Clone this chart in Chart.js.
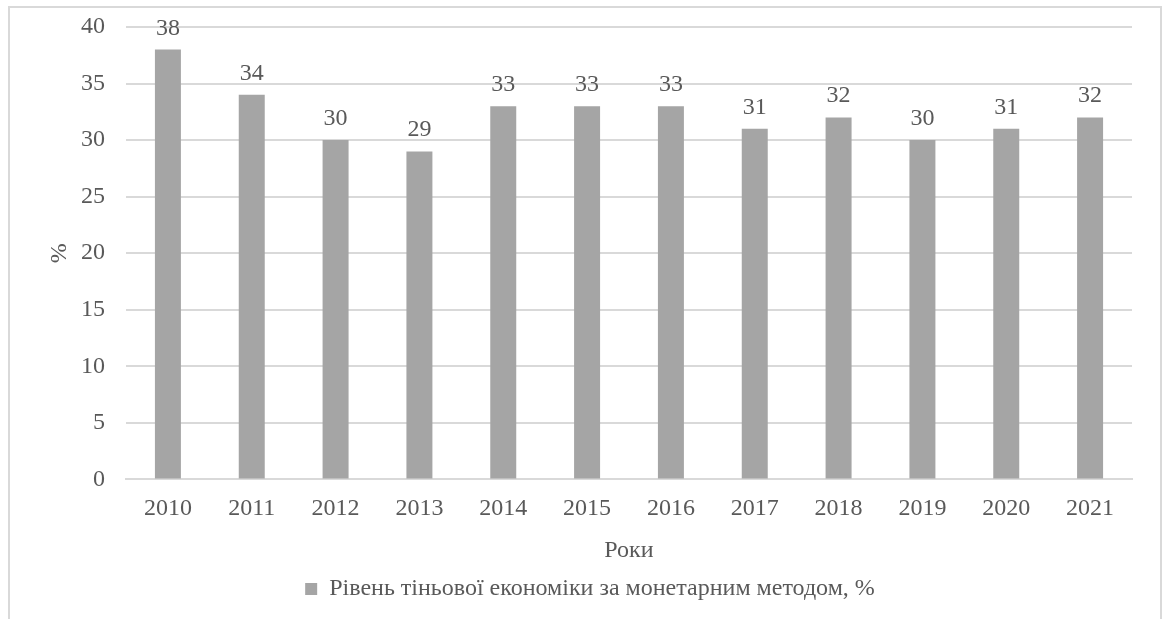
<!DOCTYPE html>
<html><head><meta charset="utf-8">
<script src="https://cdn.jsdelivr.net/npm/chart.js@4"></script>
<style>
html,body{margin:0;padding:0;background:#fff;}
#wrap{position:relative;width:1165px;height:619px;overflow:hidden;}
#frame{position:absolute;left:8px;top:6px;width:1154px;height:640px;border:2px solid #d9d9d9;box-sizing:border-box;}
canvas{position:absolute;left:0;top:0;}
</style></head>
<body><div id="wrap"><div id="frame"></div><canvas id="c" width="1165" height="619"></canvas></div>
<script>
const years = ['2010','2011','2012','2013','2014','2015','2016','2017','2018','2019','2020','2021'];
const shadowEconomy = [38,34,30,29,33,33,33,31,32,30,31,32];
const seriesLabel = 'Рівень тіньової економіки за монетарним методом, %';
const yTitle = '%';
const xTitle = 'Роки';

const FONT = "'Liberation Serif','Times New Roman',serif";
const TXT = '#595959';
const BAR = '#a5a5a5';

const valueLabels = {
  id:'valueLabels',
  afterDatasetsDraw(chart){
    const ctx = chart.ctx;
    const meta = chart.getDatasetMeta(0);
    ctx.save();
    ctx.font = "24px " + FONT;
    ctx.fillStyle = TXT;
    ctx.textAlign = 'center';
    ctx.textBaseline = 'alphabetic';
    meta.data.forEach((bar,i)=>{
      ctx.fillText(String(chart.data.datasets[0].data[i]), bar.x, bar.y - 15);
    });
    ctx.restore();
  }
};

new Chart(document.getElementById('c'), {
  type:'bar',
  data:{labels:years, datasets:[{label:seriesLabel, data:shadowEconomy, backgroundColor:BAR, barPercentage:0.62, categoryPercentage:0.5}]},
  options:{
    responsive:false, animation:false,
    layout:{padding:{left:48,right:33,top:27,bottom:8}},
    plugins:{
      legend:{position:'bottom', labels:{color:TXT, font:{family:FONT,size:24}, boxWidth:12, boxHeight:12, padding:12}},
      tooltip:{enabled:false}
    },
    scales:{
      x:{
        grid:{display:false, drawTicks:false},
        border:{display:true,color:'#d9d9d9',width:2},
        ticks:{color:TXT, font:{family:FONT,size:24}, padding:15, maxRotation:0},
        title:{display:true,text:xTitle,color:TXT,font:{family:FONT,size:24},padding:{top:-2,bottom:0}}
      },
      y:{
        min:0,max:40,
        afterFit(s){ s.width = 78; s.paddingTop = 0; s.paddingBottom = 0; },
        grid:{color:'#d9d9d9', lineWidth:2, drawTicks:false},
        border:{display:false},
        ticks:{stepSize:5,color:TXT,font:{family:FONT,size:24},padding:21},
        title:{display:true,text:yTitle,color:TXT,font:{family:FONT,size:24},padding:{top:-3,bottom:0}}
      }
    }
  },
  plugins:[valueLabels]
});
</script></body></html>
